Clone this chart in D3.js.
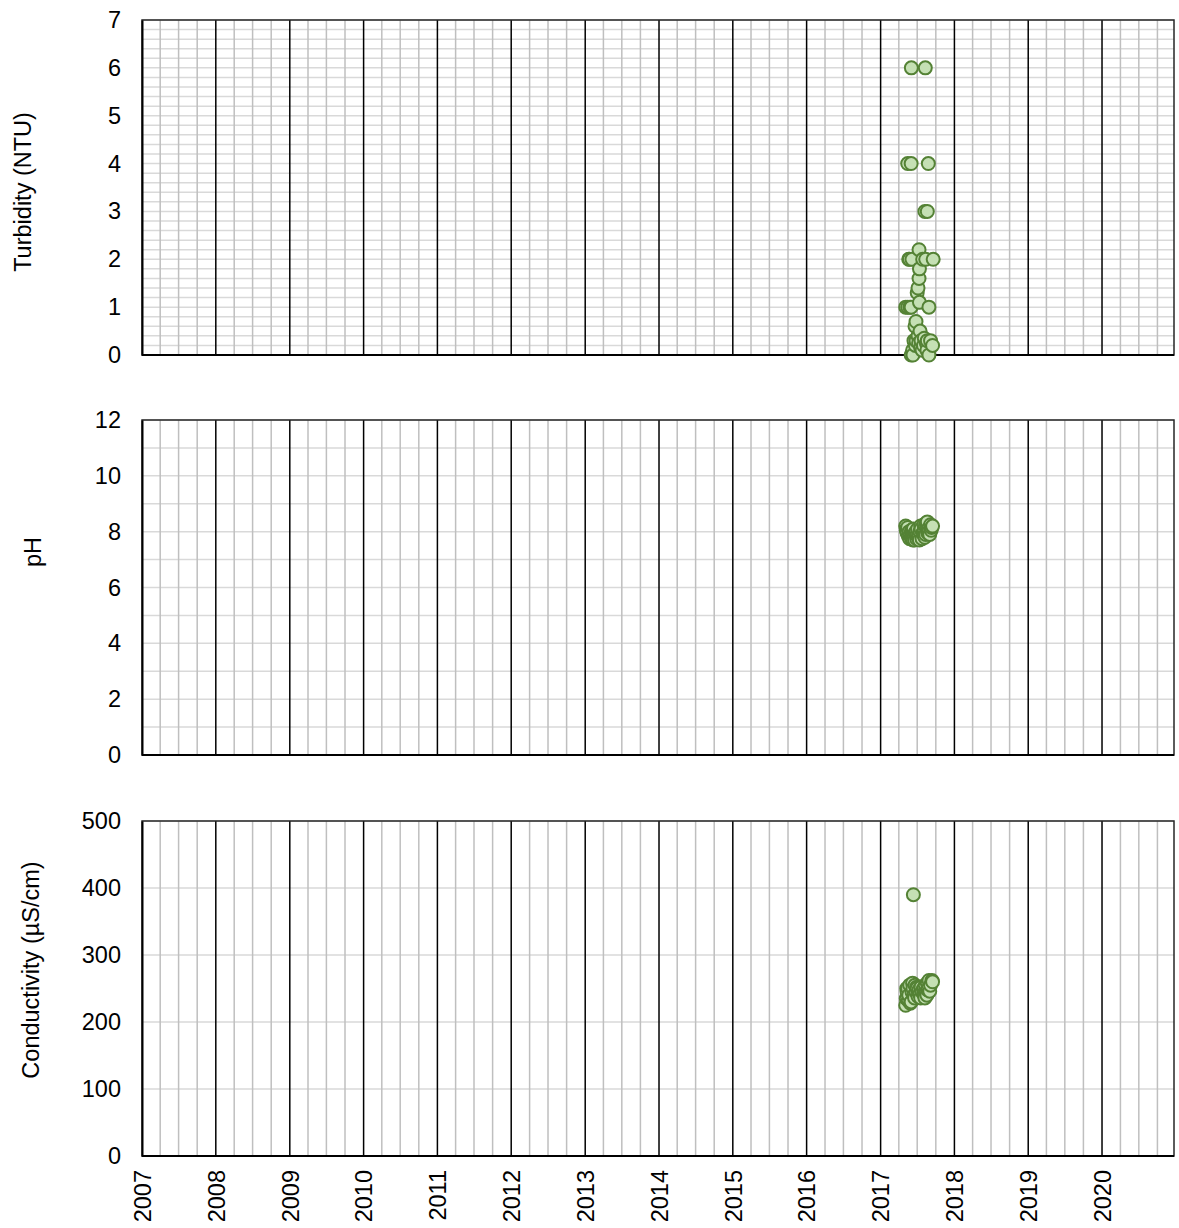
<!DOCTYPE html>
<html>
<head>
<meta charset="utf-8">
<script src="https://cdn.jsdelivr.net/npm/d3@7"></script>
<style>
  html, body { margin: 0; padding: 0; background: #fff; }
  svg { display: block; font-family: "Liberation Sans", Arial, sans-serif; }
</style>
</head>
<body>
<svg id="chart" width="1179" height="1228"></svg>
<script>
// Field measurements, summer 2017 sampling season
const turbidity = [
  ["2017-05-05", 1], ["2017-05-15", 4], ["2017-05-15", 1], ["2017-05-20", 2],
  ["2017-05-24", 2], ["2017-05-26", 1],
  ["2017-06-01", 4], ["2017-06-01", 1], ["2017-06-01", 0], ["2017-06-02", 6],
  ["2017-06-05", 2], ["2017-06-08", 0.1], ["2017-06-10", 0], ["2017-06-15", 0.3],
  ["2017-06-20", 0.6], ["2017-06-22", 0.2],
  ["2017-06-25", 0.7], ["2017-06-25", 0.3], ["2017-07-01", 1.3], ["2017-07-05", 1.4],
  ["2017-07-05", 0.4], ["2017-07-08", 0.25], ["2017-07-10", 2.2], ["2017-07-10", 1.6],
  ["2017-07-12", 1.8], ["2017-07-12", 1.1], ["2017-07-15", 0.5], ["2017-07-18", 0.15],
  ["2017-07-20", 0.3], ["2017-07-25", 0.1], ["2017-07-28", 2],
  ["2017-08-01", 0.2], ["2017-08-05", 0.35], ["2017-08-08", 3], ["2017-08-10", 6],
  ["2017-08-12", 2], ["2017-08-15", 0.25], ["2017-08-18", 0.1], ["2017-08-20", 3],
  ["2017-08-20", 0.3], ["2017-08-25", 4], ["2017-08-28", 1], ["2017-08-28", 0],
  ["2017-09-05", 0.3], ["2017-09-15", 0.2], ["2017-09-18", 2]
];

const ph = [
  ["2017-05-05", 8.2], ["2017-05-08", 8.05], ["2017-05-10", 8.1], ["2017-05-12", 7.95],
  ["2017-05-15", 8.15], ["2017-05-18", 7.85], ["2017-05-22", 8.0], ["2017-05-25", 7.75],
  ["2017-05-28", 7.9], ["2017-06-01", 7.8], ["2017-06-03", 8.05], ["2017-06-05", 7.75],
  ["2017-06-08", 7.95], ["2017-06-10", 7.7], ["2017-06-12", 8.1], ["2017-06-15", 7.85],
  ["2017-06-18", 7.7], ["2017-06-20", 7.95], ["2017-06-25", 8.0], ["2017-06-28", 7.75],
  ["2017-07-01", 7.9], ["2017-07-03", 8.1], ["2017-07-05", 7.8], ["2017-07-10", 7.85],
  ["2017-07-12", 7.7], ["2017-07-15", 8.0], ["2017-07-18", 8.2], ["2017-07-20", 8.1],
  ["2017-07-25", 7.75], ["2017-07-28", 7.95], ["2017-08-01", 7.9], ["2017-08-03", 8.25],
  ["2017-08-05", 8.05], ["2017-08-08", 7.8], ["2017-08-10", 8.2], ["2017-08-12", 7.9],
  ["2017-08-15", 8.3], ["2017-08-18", 8.1], ["2017-08-20", 8.35], ["2017-08-22", 7.95],
  ["2017-08-25", 8.1], ["2017-08-28", 8.0], ["2017-09-01", 7.9], ["2017-09-05", 8.25],
  ["2017-09-08", 8.05], ["2017-09-10", 8.15], ["2017-09-15", 8.2]
];

const conductivity = [
  ["2017-05-05", 225], ["2017-05-08", 235], ["2017-05-10", 250], ["2017-05-12", 245],
  ["2017-05-15", 250], ["2017-05-18", 232], ["2017-05-20", 240], ["2017-05-25", 255],
  ["2017-05-28", 228], ["2017-06-01", 230], ["2017-06-05", 245], ["2017-06-08", 258],
  ["2017-06-10", 250], ["2017-06-12", 390], ["2017-06-15", 240], ["2017-06-18", 236],
  ["2017-06-20", 255], ["2017-06-25", 245], ["2017-06-28", 252], ["2017-07-01", 250],
  ["2017-07-05", 238], ["2017-07-08", 244], ["2017-07-10", 248], ["2017-07-15", 242],
  ["2017-07-18", 236], ["2017-07-20", 252], ["2017-07-25", 245], ["2017-08-01", 250],
  ["2017-08-03", 243], ["2017-08-05", 240], ["2017-08-08", 236], ["2017-08-10", 255],
  ["2017-08-15", 245], ["2017-08-18", 240], ["2017-08-20", 258], ["2017-08-22", 248],
  ["2017-08-25", 250], ["2017-08-28", 262], ["2017-09-01", 246], ["2017-09-05", 255],
  ["2017-09-12", 262], ["2017-09-15", 260]
];

const yearLabels = ["2007", "2008", "2009", "2010", "2011", "2012", "2013",
                    "2014", "2015", "2016", "2017", "2018", "2019", "2020"];

const panels = [
  { title: "Turbidity (NTU)",      data: turbidity,    max: 7,   major: 1,   minor: 0.2, top: 20,  bottom: 355,  labelX: 25, labelY: 192 },
  { title: "pH",                   data: ph,           max: 12,  major: 2,   minor: 1,   top: 420, bottom: 755,  labelX: 35, labelY: 552 },
  { title: "Conductivity (µS/cm)", data: conductivity, max: 500, major: 100, minor: 100, top: 821, bottom: 1156, labelX: 33, labelY: 970 }
];

const left = 142, right = 1174;
const fontSize = 23.5;
const parse = d3.timeParse("%Y-%m-%d");
const x = d3.scaleTime()
  .domain([new Date(2007, 0, 1), new Date(2020, 11, 22)])
  .range([left, right]);

const svg = d3.select("#chart");
const years = yearLabels.map(y => new Date(+y, 0, 1));
const quarters = d3.timeMonth.range(new Date(2007, 0, 1), new Date(2020, 11, 22), 3)
  .filter(d => d.getMonth() !== 0);

panels.forEach((p, i) => {
  const y = d3.scaleLinear().domain([0, p.max]).range([p.bottom, p.top]);
  const g = svg.append("g");

  // horizontal gridlines
  const hTicks = d3.range(0, p.max + 1e-9, p.minor).map(v => +v.toFixed(4));
  g.append("g").selectAll("line").data(hTicks).join("line")
    .attr("x1", left).attr("x2", right)
    .attr("y1", d => y(d)).attr("y2", d => y(d))
    .attr("stroke", "#d9d9d9").attr("stroke-width", 1.5);

  // quarterly gridlines
  g.append("g").selectAll("line").data(quarters).join("line")
    .attr("x1", d => x(d)).attr("x2", d => x(d))
    .attr("y1", p.top).attr("y2", p.bottom)
    .attr("stroke", "#bfbfbf").attr("stroke-width", 1.5);

  // yearly gridlines
  g.append("g").selectAll("line").data(years.slice(1)).join("line")
    .attr("x1", d => x(d)).attr("x2", d => x(d))
    .attr("y1", p.top).attr("y2", p.bottom)
    .attr("stroke", "#000").attr("stroke-width", 1.5);

  // plot frame
  g.append("rect")
    .attr("x", left).attr("y", p.top)
    .attr("width", right - left).attr("height", p.bottom - p.top)
    .attr("fill", "none").attr("stroke", "#262626").attr("stroke-width", 1.5);

  // y axis
  const yAxis = d3.axisLeft(y)
    .tickValues(d3.range(0, p.max + 1e-9, p.major))
    .tickFormat(d3.format("d"))
    .tickSize(0).tickPadding(21);
  const ya = g.append("g").attr("transform", `translate(${left},0)`).call(yAxis);
  ya.select(".domain").attr("stroke", "#000").attr("stroke-width", 2);
  ya.selectAll("text").attr("font-size", fontSize).attr("fill", "#000")
    .attr("font-family", "Liberation Sans, Arial, sans-serif");

  // x axis line
  g.append("line")
    .attr("x1", left).attr("x2", right)
    .attr("y1", p.bottom).attr("y2", p.bottom)
    .attr("stroke", "#000").attr("stroke-width", 2);

  // y title
  g.append("text")
    .attr("transform", `translate(${p.labelX},${p.labelY}) rotate(-90)`)
    .attr("text-anchor", "middle").attr("dominant-baseline", "middle")
    .attr("font-size", fontSize).attr("fill", "#000")
    .text(p.title);

  // points
  g.append("g").selectAll("circle").data(p.data).join("circle")
    .attr("cx", d => x(parse(d[0])))
    .attr("cy", d => y(d[1]))
    .attr("r", 6.5)
    .attr("fill", "#c5e0b4")
    .attr("stroke", "#548235")
    .attr("stroke-width", 2);

  // year labels on the bottom panel
  if (i === panels.length - 1) {
    const xAxis = d3.axisBottom(x).tickValues(years)
      .tickFormat((d, k) => yearLabels[k]).tickSize(0).tickPadding(0);
    const xa = g.append("g").attr("transform", `translate(0,${p.bottom})`).call(xAxis);
    xa.select(".domain").remove();
    xa.selectAll("text")
      .attr("font-size", fontSize).attr("fill", "#000")
      .attr("font-family", "Liberation Sans, Arial, sans-serif")
      .attr("transform", "rotate(-90)")
      .attr("text-anchor", "end")
      .attr("x", -14).attr("y", 0).attr("dy", "0.35em");
  }
});
</script>
</body>
</html>
